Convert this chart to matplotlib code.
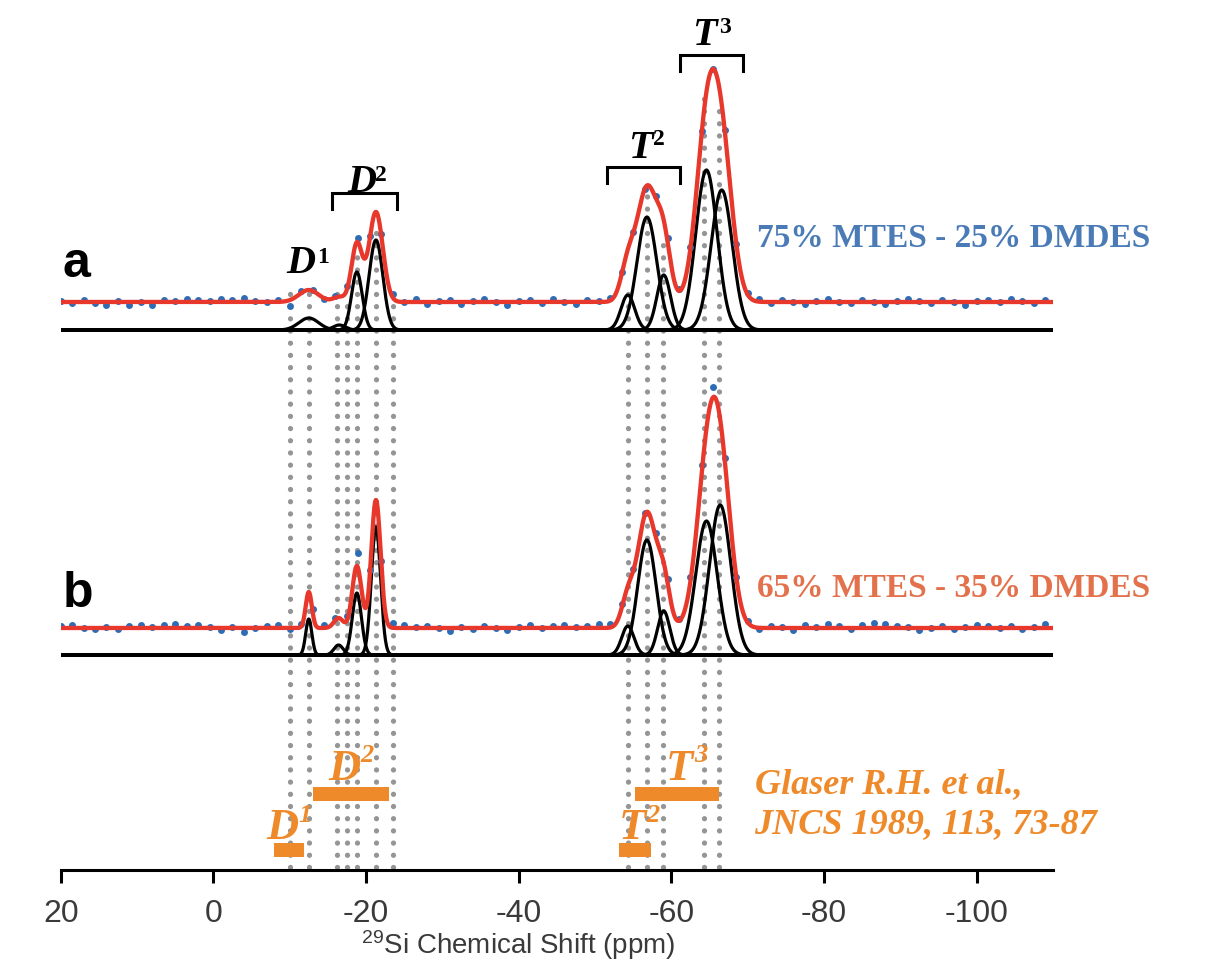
import numpy as np
import matplotlib
matplotlib.use("Agg")
import matplotlib.pyplot as plt

plt.rcParams['font.family'] = 'Liberation Sans'
plt.rcParams['axes.unicode_minus'] = False
plt.rcParams['mathtext.fontset'] = 'custom'
plt.rcParams['mathtext.rm'] = 'Liberation Sans'

# fitted components (centre ppm, height, sigma ppm)
a_centers = [-12.5, -16.5, -18.8, -21.3, -54.3, -56.8, -59.0, -64.6, -66.6]
a_heights = [12, 5, 58, 90, 35, 113, 55, 160, 140]
a_widths = [1.3, 0.8, 0.7, 0.9, 0.9, 1.3, 0.9, 1.4, 1.4]

b_centers = [-12.5, -16.4, -18.8, -21.3, -54.3, -56.8, -59.0, -64.6, -66.4]
b_heights = [36, 10, 62, 128, 29, 115, 44, 134, 150]
b_widths = [0.4, 0.6, 0.6, 0.6, 0.8, 1.2, 0.8, 1.4, 1.4]

# experimental points: deviation from the fit, every 1.5 ppm from 20 to -109
exp_ppm = np.arange(20, -110.5, -1.5)
blue_a_dev = [1, -1, 2, -1, -3, 1, -3, 0, -3, 2,
              1, 3, 2, 1, 3, 2, 4, 1, 0, 2,
              -6, 2, 1, -1, 2, 3, 5, 2, 1, 3,
              0, 3, -2, 1, 2, -2, 1, 3, 0, -3,
              1, 2, -1, 3, 0, -2, 2, 1, 3, 2,
              1, 0, 3, 4, 2, 1, 0, 0, 1, -1,
              2, 3, -1, 2, 0, -2, 1, 3, 0, -1,
              2, 0, -2, 1, 3, 1, -1, 2, 0, -3,
              1, 2, 0, 3, 1, -1, 2]
blue_b_dev = [2, 3, 0, -1, 1, -1, 2, 3, 1, 3,
              4, 2, 3, 1, -2, 1, -4, 0, 2, 3,
              -1, 2, 3, 3, 2, 4, 16, 4, 2, 5,
              3, 1, 2, 0, -3, 1, -1, 2, 0, -2,
              1, 3, 0, 2, 3, 1, 2, 4, 3, 4,
              2, 3, 5, 3, 2, 4, 6, 10, 2, 0,
              1, -1, 2, 1, -2, 3, 1, 4, 2, -1,
              3, 5, 4, 2, 1, -2, 0, 2, -1, 1,
              3, 2, 0, 2, -1, 1, 4]

# dotted guide lines
dot_ppm = [-10.0, -12.5, -16.2, -17.5, -18.8, -21.3, -23.5,
           -54.3, -56.8, -58.9, -64.3, -66.2]
dot_top = [580, 585, 580, 575, 615, 640, 575, 585, 675, 630, 775, 760]

# literature ranges (Glaser et al.)
ref_names = ['D', 'D', 'T', 'T']
ref_sups = ['1', '2', '2', '3']
ref_start = [-7.9, -13.0, -53.1, -55.3]
ref_end = [-11.9, -23.0, -57.3, -66.2]

ticks = [20, 0, -20, -40, -60, -80, -100]


def components(x, centers, heights, widths):
    return [h * np.exp(-0.5 * ((x - c) / w) ** 2)
            for c, h, w in zip(centers, heights, widths)]


RED = '#e8372b'
BLUE = '#2c6db6'
ORANGE = '#ef8a2a'
GRAY = '#959595'

fig = plt.figure(figsize=(12.13, 9.64), dpi=100)
ax = fig.add_axes([60.7 / 1213, 94 / 964, 992.3 / 1213, 870 / 964])
ax.set_xlim(20, -110)
ax.set_ylim(0, 870)

x = np.linspace(20, -110, 3001)

# dotted guides
for p, top in zip(dot_ppm, dot_top):
    ax.plot([p, p], [3, top], color=GRAY, lw=3.8, linestyle=(0, (0.01, 2.3)),
            dash_capstyle='round', zorder=1)

# spectra: (components, black offset, red offset, deviations)
spectra = [
    (components(x, a_centers, a_heights, a_widths),
     components(exp_ppm, a_centers, a_heights, a_widths), 540, 568, blue_a_dev),
    (components(x, b_centers, b_heights, b_widths),
     components(exp_ppm, b_centers, b_heights, b_widths), 215, 242, blue_b_dev),
]
for comps, comps_exp, off_k, off_r, dev in spectra:
    for c in comps:
        ax.plot(x, off_k + c, color='black', lw=2.3, zorder=2)
    ax.plot(exp_ppm, off_r + np.sum(comps_exp, axis=0) + np.array(dev),
            'o', color=BLUE, ms=5, mew=0, zorder=3)
    ax.plot(x, off_r + np.sum(comps, axis=0), color=RED, lw=3.1, zorder=4)

# brackets over the peak groups
for x0, x1, ytop in [(-15.6, -24.1, 677), (-51.6, -61.1, 703), (-61.1, -69.4, 815)]:
    ax.plot([x0, x0, x1, x1], [ytop - 16, ytop, ytop, ytop - 16],
            color='black', lw=2.2, solid_joinstyle='miter', zorder=4)

serif = 'Liberation Serif'
for main, sup, px, py, sx, sy in [('D', '1', -9.6, 597, -13.6, 607),
                                   ('D', '2', -17.5, 678, -21.2, 689),
                                   ('T', '2', -54.3, 712, -57.6, 725),
                                   ('T', '3', -62.7, 825, -66.2, 837)]:
    ax.text(px, py, main, family=serif, weight='bold', style='italic',
            fontsize=29, va='baseline', ha='left', zorder=5)
    ax.text(sx, sy, sup, family=serif, weight='bold', fontsize=17,
            va='baseline', ha='left', zorder=5)

ax.text(19.8, 593, 'a', weight='bold', fontsize=36, va='baseline', ha='left')
ax.text(19.8, 263, 'b', weight='bold', fontsize=36, va='baseline', ha='left')

ax.text(-71.2, 623, '75% MTES - 25% DMDES', family=serif, weight='bold',
        fontsize=24, color='#4b7bb6', va='baseline', ha='left')
ax.text(-71.2, 273, '65% MTES - 35% DMDES', family=serif, weight='bold',
        fontsize=24, color='#e2714c', va='baseline', ha='left')

# literature bars and labels
bar_y = [20, 76, 20, 76]
ax.barh(bar_y, np.array(ref_end) - np.array(ref_start), left=ref_start,
        height=14.5, color=ORANGE, zorder=5)
lab_pos = [(-7.0, 31, -11.2, 48), (-15.1, 90, -19.3, 108),
           (-53.1, 31, -56.7, 48), (-59.3, 90, -63.0, 108)]
for name, sup, (px, py, sx, sy) in zip(ref_names, ref_sups, lab_pos):
    ax.text(px, py, name, family=serif, style='italic', weight='bold',
            fontsize=32, color=ORANGE, va='baseline', ha='left', zorder=6)
    ax.text(sx, sy, sup, family=serif, style='italic', weight='bold',
            fontsize=19, color=ORANGE, va='baseline', ha='left', zorder=6)

ax.text(-70.9, 77, 'Glaser R.H. et al.,', family=serif, weight='bold',
        style='italic', fontsize=26, color=ORANGE, va='baseline', ha='left')
ax.text(-70.9, 37, 'JNCS 1989, 113, 73-87', family=serif, weight='bold',
        style='italic', fontsize=26, color=ORANGE, va='baseline', ha='left')

# axis styling
for s in ['top', 'left', 'right']:
    ax.spines[s].set_visible(False)
ax.spines['bottom'].set_linewidth(2.2)
ax.set_yticks([])
ax.set_xticks(ticks)
ax.set_xticklabels([str(t) for t in ticks])
ax.tick_params(axis='x', direction='out', length=9, width=2.2, pad=12,
               labelsize=23, labelcolor='#3a3a3a')
ax.text(-39.9, -75, r'$\mathregular{^{29}}$Si Chemical Shift (ppm)',
        fontsize=20, color='#3a3a3a', ha='center', va='center')

fig.savefig('out.png', dpi=100)
